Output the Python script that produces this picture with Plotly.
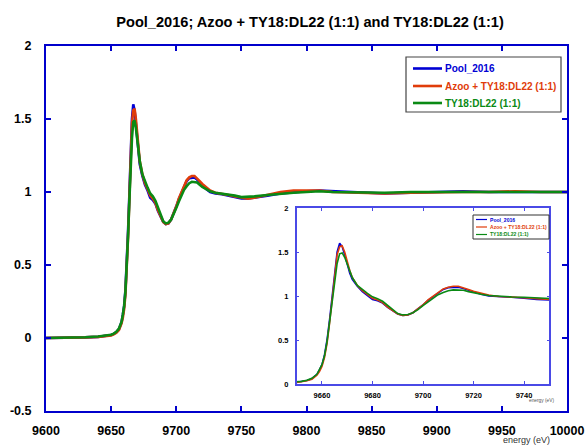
import plotly.graph_objects as go

# ---------------- data ----------------
energy = [9600, 9610, 9620, 9630, 9640, 9645, 9650, 9652, 9654, 9656, 9658, 9659,
          9660, 9661, 9662, 9663, 9664, 9665, 9666, 9667, 9668, 9669, 9670, 9671,
          9672, 9674, 9676, 9678, 9680, 9682, 9684, 9686, 9688, 9690, 9692, 9694,
          9696, 9698, 9700, 9702, 9704, 9706, 9708, 9710, 9712, 9714, 9716, 9718,
          9720, 9723, 9726, 9730, 9735, 9740, 9745, 9750, 9755, 9760, 9770, 9780,
          9790, 9800, 9810, 9820, 9840, 9860, 9880, 9900, 9920, 9940, 9960, 9980,
          10000]

pool_2016 = [0.0, 0.0, 0.002, 0.004, 0.008, 0.012, 0.02, 0.028, 0.04, 0.06, 0.11, 0.16,
             0.22, 0.33, 0.50, 0.73, 0.98, 1.30, 1.50, 1.60, 1.56, 1.47, 1.36, 1.26,
             1.19, 1.11, 1.05, 1.01, 0.96, 0.945, 0.92, 0.87, 0.83, 0.795, 0.78, 0.785,
             0.81, 0.85, 0.90, 0.95, 0.995, 1.04, 1.075, 1.095, 1.10, 1.10, 1.085, 1.065,
             1.045, 1.02, 1.0, 0.99, 0.985, 0.975, 0.96, 0.955, 0.955, 0.96, 0.975, 0.99,
             1.0, 1.005, 1.01, 1.005, 0.995, 0.99, 0.995, 1.0, 1.005, 1.0, 1.0, 1.005,
             1.0]

azoo_ty18 = [0.0, 0.0, 0.002, 0.004, 0.008, 0.011, 0.018, 0.025, 0.036, 0.055, 0.10, 0.14,
             0.20, 0.30, 0.46, 0.69, 0.95, 1.25, 1.47, 1.56, 1.57, 1.50, 1.39, 1.29,
             1.21, 1.12, 1.06, 1.02, 0.975, 0.955, 0.925, 0.875, 0.83, 0.795, 0.78, 0.785,
             0.81, 0.85, 0.90, 0.955, 1.0, 1.045, 1.08, 1.10, 1.11, 1.11, 1.095, 1.075,
             1.055, 1.03, 1.01, 0.995, 0.99, 0.98, 0.97, 0.96, 0.955, 0.96, 0.98, 1.0,
             1.01, 1.01, 1.01, 1.0, 0.995, 0.99, 0.995, 1.0, 1.0, 1.0, 1.005, 1.0,
             1.0]

ty18_dl22 = [0.0, 0.0, 0.002, 0.005, 0.01, 0.014, 0.022, 0.03, 0.042, 0.065, 0.11, 0.16,
             0.22, 0.32, 0.48, 0.70, 0.94, 1.18, 1.37, 1.48, 1.49, 1.44, 1.36, 1.28,
             1.21, 1.12, 1.07, 1.03, 0.99, 0.97, 0.94, 0.89, 0.84, 0.80, 0.785, 0.79,
             0.81, 0.845, 0.89, 0.935, 0.98, 1.015, 1.04, 1.06, 1.07, 1.07, 1.065, 1.05,
             1.035, 1.02, 1.005, 0.995, 0.99, 0.985, 0.975, 0.965, 0.965, 0.97, 0.98, 0.99,
             0.995, 1.0, 1.005, 1.0, 0.995, 0.995, 1.0, 1.0, 1.0, 1.0, 1.0, 1.0,
             1.0]

series_names = ["Pool_2016", "Azoo + TY18:DL22 (1:1)", "TY18:DL22 (1:1)"]
series_values = [pool_2016, azoo_ty18, ty18_dl22]
series_colors = ["#0000d4", "#e03c0a", "#0a8a14"]

main_xticks = [9600, 9650, 9700, 9750, 9800, 9850, 9900, 9950, 10000]
main_yticks = [-0.5, 0, 0.5, 1, 1.5, 2]
main_yticklabels = ["-0.5", "0", "0.5", "1", "1.5", "2"]
inset_xticks = [9660, 9680, 9700, 9720, 9740]
inset_yticks = [0, 0.5, 1, 1.5, 2]
inset_yticklabels = ["0", "0.5", "1", "1.5", "2"]

title_text = "Pool_2016; Azoo + TY18:DL22 (1:1) and TY18:DL22 (1:1)"
xaxis_label = "energy (eV)"

# ---------------- figure ----------------
W, H = 585, 445
ML, MR, MT, MB = 46, 18, 46, 34
FONT = "Liberation Sans, Arial, sans-serif"
AXBLUE = "#0000cc"
INBLUE = "#4a4ae6"

fig = go.Figure()

for name, vals, col in zip(series_names, series_values, series_colors):
    fig.add_trace(go.Scatter(x=energy, y=vals, mode="lines", name=name,
                             line=dict(color=col, width=2.6), showlegend=False,
                             xaxis="x", yaxis="y"))
for name, vals, col in zip(series_names, series_values, series_colors):
    fig.add_trace(go.Scatter(x=energy, y=vals, mode="lines", name=name,
                             line=dict(color=col, width=1.6), showlegend=False,
                             xaxis="x2", yaxis="y2", cliponaxis=True))

pw = W - ML - MR
ph = H - MT - MB


def px(x):
    return (x - ML) / pw


def py(y):
    return (H - MB - y) / ph


fig.update_layout(
    template="none",
    width=W, height=H,
    margin=dict(l=ML, r=MR, t=MT, b=MB, pad=0, autoexpand=False),
    paper_bgcolor="white", plot_bgcolor="white",
    font=dict(family=FONT, color="black"),
    title=dict(text="<b>" + title_text + "</b>", x=310 / W, xanchor="center",
               y=1 - 22 / H, yanchor="middle", automargin=False,
               font=dict(size=14.6, family=FONT)),
    showlegend=False,
    xaxis=dict(range=[9600, 10000], tickvals=main_xticks,
               ticktext=["<b>%d</b>" % v for v in main_xticks],
               showline=True, linecolor=AXBLUE, linewidth=2, mirror="ticks",
               ticks="inside", ticklen=5, tickwidth=2, tickcolor=AXBLUE,
               showgrid=False, zeroline=False, ticklabelstandoff=7,
               automargin=False,
               tickfont=dict(size=12.5, family=FONT), domain=[0, 1]),
    yaxis=dict(range=[-0.5, 2], tickvals=main_yticks,
               ticktext=["<b>%s</b>" % t for t in main_yticklabels],
               showline=True, linecolor=AXBLUE, linewidth=2, mirror="ticks",
               ticks="inside", ticklen=5, tickwidth=2, tickcolor=AXBLUE,
               showgrid=False, zeroline=False, ticklabelstandoff=10,
               automargin=False,
               tickfont=dict(size=12.5, family=FONT), domain=[0, 1]),
    xaxis2=dict(range=[9650, 9750], tickvals=inset_xticks,
                ticktext=["<b>%d</b>" % v for v in inset_xticks],
                showline=True, linecolor=INBLUE, linewidth=1.5, mirror="ticks",
                ticks="inside", ticklen=3, tickwidth=1.2, tickcolor=INBLUE,
                showgrid=False, zeroline=False, ticklabelstandoff=3,
                automargin=False,
                tickfont=dict(size=7.5, family=FONT), anchor="y2",
                domain=[px(296.7), px(549.3)]),
    yaxis2=dict(range=[0, 2], tickvals=inset_yticks,
                ticktext=["<b>%s</b>" % t for t in inset_yticklabels],
                showline=True, linecolor=INBLUE, linewidth=1.5, mirror="ticks",
                ticks="inside", ticklen=3, tickwidth=1.2, tickcolor=INBLUE,
                showgrid=False, zeroline=False, ticklabelstandoff=5,
                automargin=False,
                tickfont=dict(size=7.5, family=FONT), anchor="x2",
                domain=[py(384), py(208)]),
)

shapes = []
annotations = []

# axis titles
annotations.append(dict(text=xaxis_label, x=px(526), y=py(440), xref="paper", yref="paper",
                        xanchor="center", yanchor="middle", showarrow=False,
                        font=dict(size=9, color="#333333", family=FONT)))
annotations.append(dict(text=xaxis_label, x=px(541), y=py(400.5), xref="paper", yref="paper",
                        xanchor="center", yanchor="middle", showarrow=False,
                        font=dict(size=4.8, color="#555555", family=FONT)))

# main legend
shapes.append(dict(type="rect", xref="paper", yref="paper",
                   x0=px(406), x1=px(561), y0=py(112), y1=py(57),
                   line=dict(color="#444444", width=1.2), fillcolor="white", layer="above"))
for i, (name, col) in enumerate(zip(series_names, series_colors)):
    yy = [68.5, 86, 103][i]
    shapes.append(dict(type="line", xref="paper", yref="paper",
                       x0=px(413), x1=px(442), y0=py(yy), y1=py(yy),
                       line=dict(color=col, width=2.6), layer="above"))
    annotations.append(dict(text="<b>" + name + "</b>", x=px(443), y=py(yy),
                            xref="paper", yref="paper", xanchor="left", yanchor="middle",
                            showarrow=False, font=dict(size=10, color=col, family=FONT)))

# inset legend
shapes.append(dict(type="rect", xref="paper", yref="paper",
                   x0=px(473), x1=px(549), y0=py(239), y1=py(215),
                   line=dict(color="#333333", width=1), fillcolor="white", layer="above"))
for i, (name, col) in enumerate(zip(series_names, series_colors)):
    yy = [219.5, 227, 234.5][i]
    shapes.append(dict(type="line", xref="paper", yref="paper",
                       x0=px(476), x1=px(487), y0=py(yy), y1=py(yy),
                       line=dict(color=col, width=1.2), layer="above"))
    annotations.append(dict(text="<b>" + name + "</b>", x=px(487.5), y=py(yy),
                            xref="paper", yref="paper", xanchor="left", yanchor="middle",
                            showarrow=False, font=dict(size=5.1, color=col, family=FONT)))

fig.update_layout(shapes=shapes, annotations=annotations)

fig.write_html("out.html")
